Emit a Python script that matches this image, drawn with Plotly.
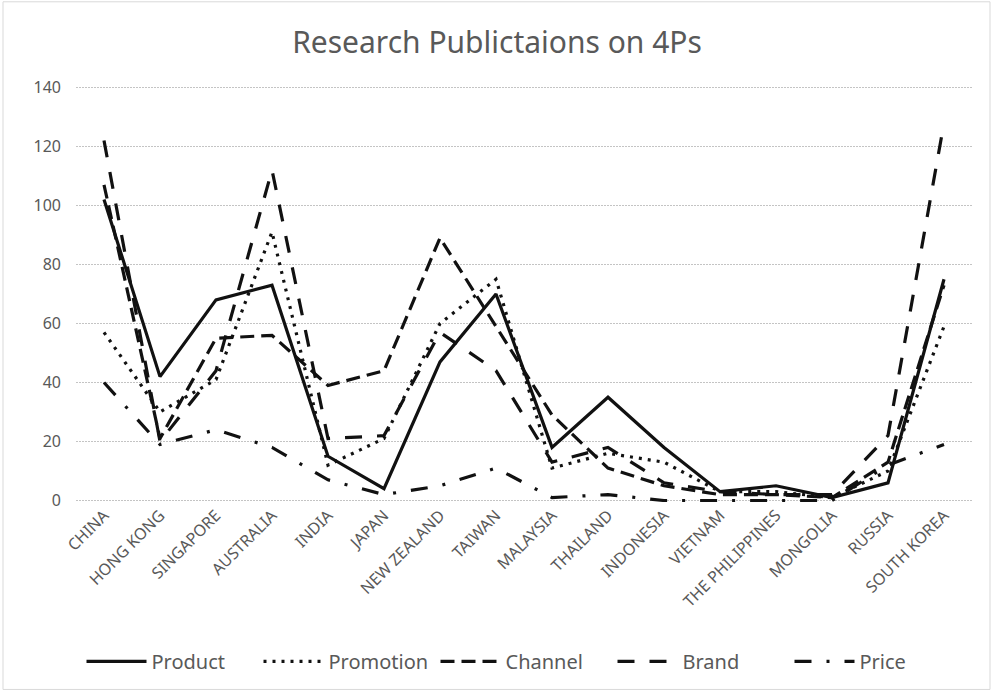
import plotly.graph_objects as go

countries = ["CHINA", "HONG KONG", "SINGAPORE", "AUSTRALIA", "INDIA", "JAPAN",
             "NEW ZEALAND", "TAIWAN", "MALAYSIA", "THAILAND", "INDONESIA",
             "VIETNAM", "THE PHILIPPINES", "MONGOLIA", "RUSSIA", "SOUTH KOREA"]

product   = [102, 42, 68, 73, 15, 4, 47, 70, 18, 35, 18, 3, 5, 1, 6, 75]
promotion = [57, 30, 41, 91, 12, 21, 60, 75, 11, 16, 13, 3, 3, 1, 10, 59]
channel   = [107, 21, 55, 56, 39, 44, 89, 59, 29, 11, 5, 2, 2, 1, 13, 73]
brand     = [122, 20, 44, 112, 21, 22, 57, 44, 13, 18, 6, 3, 2, 2, 22, 128]
price     = [40, 19, 24, 18, 7, 2, 5, 11, 1, 2, 0, 0, 0, 0, 12, 19]

y_ticks = [0, 20, 40, 60, 80, 100, 120, 140]

series = [
    ("Product", product, "solid"),
    ("Promotion", promotion, "3px,6px"),
    ("Channel", channel, "14px,7px"),
    ("Brand", brand, "17px,15px"),
    ("Price", price, "17px,15px,3px,15px"),
]

FONT = "Noto Sans"
GRAY = "#595959"

fig = go.Figure()
for name, vals, dash in series:
    fig.add_trace(go.Scatter(
        x=countries, y=vals, name=name, mode="lines",
        line=dict(color="#111111", width=3.2, dash=dash),
    ))

fig.update_layout(
    width=994, height=692,
    margin=dict(l=76, r=22, t=86, b=189),
    paper_bgcolor="white", plot_bgcolor="white",
    title=dict(text="Research Publictaions on 4Ps", x=0.5, xanchor="center",
               y=1 - 42 / 692, yanchor="middle",
               font=dict(family=FONT, size=30, color=GRAY)),
    font=dict(family=FONT, color=GRAY),
    showlegend=True,
    legend=dict(orientation="h", x=0.5, xanchor="center", y=-0.38, yanchor="middle",
                font=dict(family=FONT, size=20, color=GRAY),
                entrywidth=102, itemwidth=60, bgcolor="rgba(0,0,0,0)"),
    xaxis=dict(type="category", range=[-0.5, 15.5], tickangle=-45,
               tickfont=dict(family=FONT, size=16, color=GRAY),
               showgrid=False, showline=False, ticks="", zeroline=False),
    yaxis=dict(range=[-0.5, 140.5], tickvals=y_ticks,
               tickfont=dict(family=FONT, size=16, color=GRAY),
               showgrid=True, gridcolor="#c4c4c4", griddash="2px,1px", gridwidth=1,
               zeroline=False, showline=False, ticks="", ticklabelstandoff=14),
    shapes=[dict(type="rect", xref="paper", yref="paper",
                 x0=(3 - 76) / 896, x1=(990 - 76) / 896,
                 y0=(502 - 689) / 415, y1=(502 - 3) / 415,
                 line=dict(color="#d9d9d9", width=1), layer="below")],
)

fig.write_html("out.html", config={"displayModeBar": False},
               post_script="document.body.style.margin='0';document.body.style.overflow='hidden';")
